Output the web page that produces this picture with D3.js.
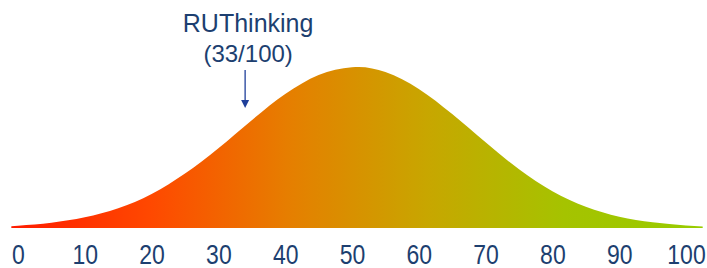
<!DOCTYPE html>
<html>
<head>
<meta charset="utf-8">
<script src="https://cdn.jsdelivr.net/npm/d3@7"></script>
<style>
  html, body { margin: 0; padding: 0; background: #fff; }
  svg { display: block; }
  .tick-label { font-family: "Liberation Sans", Arial, sans-serif; fill: #1d3f70; }
  .note { font-family: "Liberation Sans", Arial, sans-serif; fill: #1d3f70; }
</style>
</head>
<body>
<div id="chart"></div>
<script>
// curve: score -> relative height (peak = 100)
var scores  = [-1, 0, 5, 10, 15, 20, 25, 30, 35, 40, 45, 50, 51, 55, 60, 65, 70, 75, 80, 85, 90, 95, 100, 102.5];
var heights = [1.1, 1.4, 3.2, 6.6, 12.2, 21.1, 33.8, 49.6, 67.0, 83.2, 95.1, 99.8, 100, 96.9, 86.4, 70.8, 53.2, 36.5, 22.9, 13.2, 7.0, 3.5, 1.6, 1.0];
var tickValues = [0, 10, 20, 30, 40, 50, 60, 70, 80, 90, 100];
var noteTitle = 'RUThinking';
var noteScore = 33;
var noteArrowAt = 34;   // where the arrow sits on the axis in the picture
var gradStops = [
  {offset: 0,   color: '#ff1c00'},
  {offset: 0.2, color: '#ff4800'},
  {offset: 0.4, color: '#e67e00'},
  {offset: 0.6, color: '#c8a600'},
  {offset: 0.8, color: '#a5c300'},
  {offset: 1,   color: '#98cc00'}
];

var width = 707, height = 268;

var svg = d3.select('#chart').append('svg')
  .attr('width', width)
  .attr('height', height);

var x = d3.scaleLinear().domain([0, 100]).range([18, 686]);
var y = d3.scaleLinear().domain([0, 100]).range([228, 67]);

//-----gradient-------
var grad = svg.append('defs').append('linearGradient')
  .attr('id', 'bellGrad')
  .attr('gradientUnits', 'userSpaceOnUse')
  .attr('x1', x(scores[0])).attr('x2', x(scores[scores.length - 1]))
  .attr('y1', 0).attr('y2', 0);

grad.selectAll('stop')
  .data(gradStops)
  .enter().append('stop')
    .attr('offset', function(d){ return d.offset })
    .attr('stop-color', function(d){ return d.color });

//-----curve-------
var pts = scores.map(function(s, i){ return [s, heights[i]] });

var area = d3.area()
  .x(function(d){ return x(d[0]) })
  .y0(y(0))
  .y1(function(d){ return y(d[1]) })
  .curve(d3.curveMonotoneX);

svg.append('path')
  .datum(pts)
  .attr('d', area)
  .attr('fill', 'url(#bellGrad)');

//-----axis labels-------
var xAxis = d3.axisBottom(x)
  .tickValues(tickValues)
  .tickSize(0)
  .tickPadding(0);

var axisG = svg.append('g')
  .attr('transform', 'translate(0,264)')
  .call(xAxis);

axisG.select('.domain').remove();
axisG.selectAll('text')
  .attr('class', 'tick-label')
  .attr('dy', 0)
  .attr('y', 0)
  .attr('font-size', 23)
  .attr('transform', 'scale(1,1.18)');

//-----annotation-------
var ax = x(noteArrowAt);

svg.append('text').attr('class', 'note')
  .attr('x', ax + 3).attr('y', 32)
  .attr('text-anchor', 'middle')
  .attr('font-size', 25)
  .text(noteTitle);

svg.append('text').attr('class', 'note')
  .attr('x', ax + 3).attr('y', 62)
  .attr('text-anchor', 'middle')
  .attr('font-size', 24)
  .text('(' + noteScore + '/100)');

svg.append('line')
  .attr('x1', ax).attr('x2', ax)
  .attr('y1', 70).attr('y2', 102)
  .attr('stroke', '#1f3f9a')
  .attr('stroke-width', 1.3);

svg.append('path')
  .attr('d', 'M' + (ax - 4) + ',100 L' + (ax + 4) + ',100 L' + ax + ',108 Z')
  .attr('fill', '#1f3f9a');
</script>
</body>
</html>
